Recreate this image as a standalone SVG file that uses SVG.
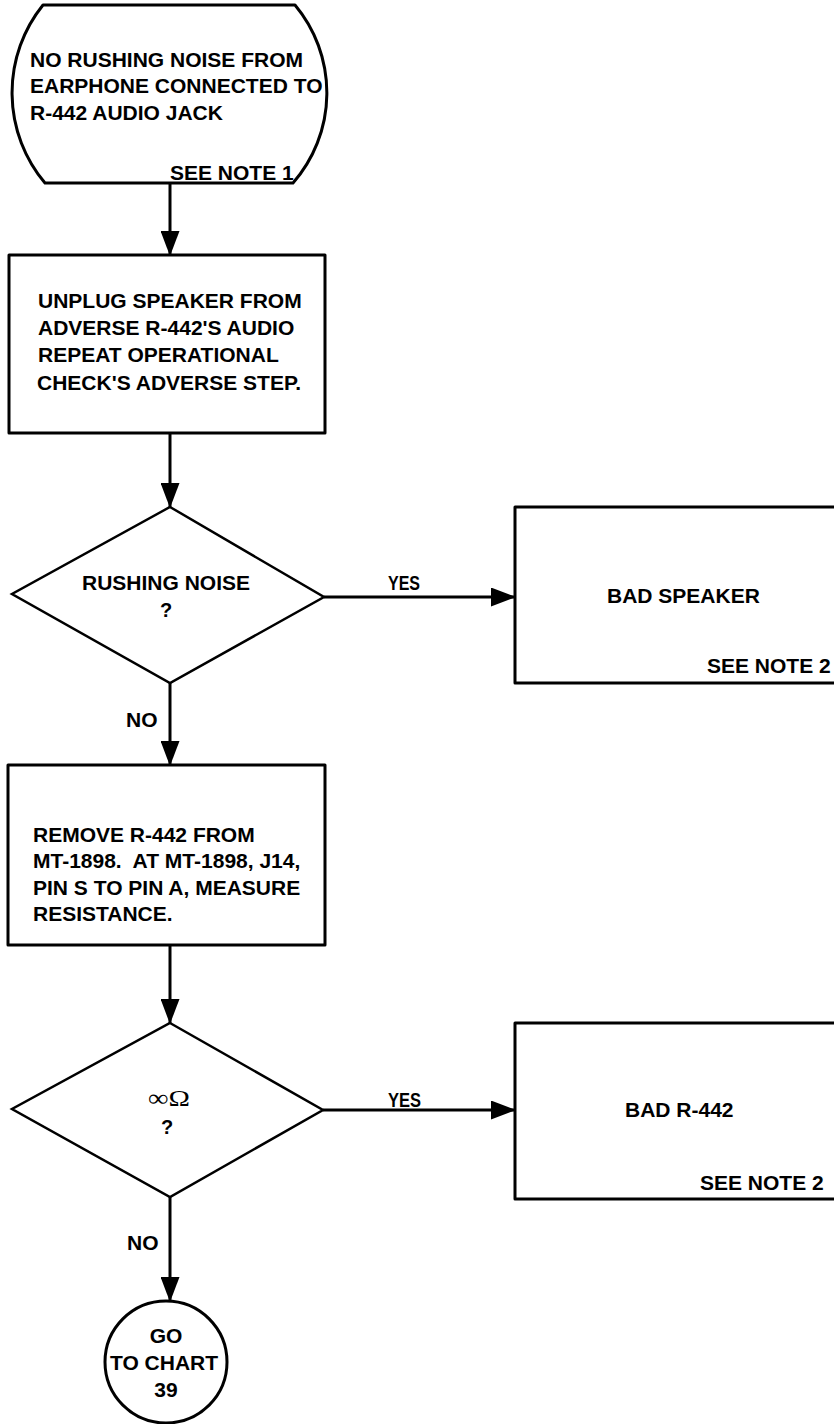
<svg xmlns="http://www.w3.org/2000/svg" width="834" height="1424" viewBox="0 0 834 1424">
<defs>
<style>
.shape{fill:#fff;stroke:#000;stroke-width:3;stroke-linejoin:round}
.dia{fill:#fff;stroke:#000;stroke-width:2.5;stroke-linejoin:miter}
.conn line{stroke:#000;stroke-width:3}
.t{font-family:"Liberation Sans",Arial,sans-serif;font-weight:bold;font-size:21px;fill:#000}
.q{font-family:"Liberation Sans",Arial,sans-serif;font-weight:bold;font-size:20px;fill:#000;text-anchor:middle}
.c{text-anchor:middle}
</style>
<marker id="ah" markerUnits="userSpaceOnUse" markerWidth="25" markerHeight="19" refX="24" refY="9.5" orient="auto">
<path d="M0,0 L25,9.5 L0,19 Z" fill="#000"/>
</marker>
</defs>
<rect width="834" height="1424" fill="#fff"/>

<g id="connectors" class="conn">
<line x1="170" y1="183" x2="170" y2="255" marker-end="url(#ah)"/>
<line x1="170" y1="433" x2="170" y2="507" marker-end="url(#ah)"/>
<line x1="324" y1="597" x2="515" y2="597" marker-end="url(#ah)"/>
<line x1="170" y1="683" x2="170" y2="765" marker-end="url(#ah)"/>
<line x1="170" y1="945" x2="170" y2="1023" marker-end="url(#ah)"/>
<line x1="323" y1="1110" x2="515" y2="1110" marker-end="url(#ah)"/>
<line x1="170" y1="1197" x2="170" y2="1301" marker-end="url(#ah)"/>
<text class="t" x="388" y="590" textLength="32" lengthAdjust="spacingAndGlyphs">YES</text>
<text class="t" x="126" y="727">NO</text>
<text class="t" x="388" y="1107" textLength="33" lengthAdjust="spacingAndGlyphs">YES</text>
<text class="t" x="127" y="1250">NO</text>
</g>

<g id="start">
<path class="shape" d="M43,5 H295 A137,137 0 0 1 293,183 H45 A140,140 0 0 1 43,5 Z"/>
<text class="t" x="30" y="67">NO RUSHING NOISE FROM</text>
<text class="t" x="30" y="93">EARPHONE CONNECTED TO</text>
<text class="t" x="30" y="120">R-442 AUDIO JACK</text>
<text class="t" x="170" y="180">SEE NOTE 1</text>
</g>

<g id="unplug">
<rect class="shape" x="9" y="255" width="316" height="178"/>
<text class="t" x="38" y="308">UNPLUG SPEAKER FROM</text>
<text class="t" x="38" y="335">ADVERSE R-442'S AUDIO</text>
<text class="t" x="38" y="362">REPEAT OPERATIONAL</text>
<text class="t" x="37" y="390">CHECK'S ADVERSE STEP.</text>
</g>

<g id="rushing">
<polygon class="dia" points="170,507 324,597 170,683 12,594"/>
<text class="t c" x="166" y="590">RUSHING NOISE</text>
<text class="q" x="166" y="617">?</text>
</g>

<g id="badspeaker">
<rect class="shape" x="515" y="507" width="321" height="176"/>
<text class="t" x="607" y="603">BAD SPEAKER</text>
<text class="t" x="707" y="673">SEE NOTE 2</text>
</g>

<g id="remove">
<rect class="shape" x="8" y="765" width="317" height="180"/>
<text class="t" x="33" y="842">REMOVE R-442 FROM</text>
<text class="t" x="33" y="868" xml:space="preserve">MT-1898.  AT MT-1898, J14,</text>
<text class="t" x="33" y="895">PIN S TO PIN A, MEASURE</text>
<text class="t" x="33" y="921">RESISTANCE.</text>
</g>

<g id="infinite">
<polygon class="dia" points="170,1023 323,1110 170,1197 12,1109"/>
<text x="169" y="1106" text-anchor="middle" font-family="'Liberation Serif','DejaVu Serif',serif" font-size="24" textLength="42" lengthAdjust="spacingAndGlyphs" fill="#000">∞Ω</text>
<text class="q" x="167" y="1134">?</text>
</g>

<g id="badr442">
<rect class="shape" x="515" y="1023" width="321" height="176"/>
<text class="t" x="625" y="1117">BAD R-442</text>
<text class="t" x="700" y="1190">SEE NOTE 2</text>
</g>

<g id="goto">
<circle class="shape" cx="166" cy="1362" r="61"/>
<text class="t c" x="166" y="1343">GO</text>
<text class="t c" x="164" y="1370">TO CHART</text>
<text class="t c" x="166" y="1397">39</text>
</g>
</svg>
